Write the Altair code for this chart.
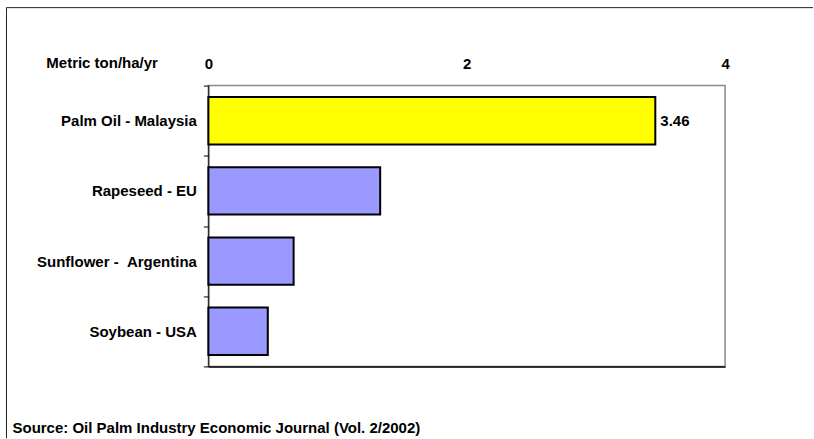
import altair as alt
import pandas as pd

categories = ["Palm Oil - Malaysia", "Rapeseed - EU", "Sunflower - \u00a0Argentina", "Soybean - USA"]
values = [3.46, 1.33, 0.66, 0.46]
bar_colors = ["#FFFF00", "#9999FF", "#9999FF", "#9999FF"]
value_labels = ["3.46", "", "", ""]
x_ticks = [0, 2, 4]
axis_title = "Metric ton/ha/yr"
source_text = "Source: Oil Palm Industry Economic Journal (Vol. 2/2002)"

FONT = "Liberation Sans"
FS = 15

df = pd.DataFrame({"cat": categories, "val": values, "color": bar_colors, "label": value_labels})

xscale = alt.Scale(domain=[0, 4], nice=False, zero=True)
yscale = alt.Scale(domain=categories, paddingInner=0, paddingOuter=0)

yaxis = alt.Axis(
    title=None, tickBand="extent", tickSize=5, tickColor="black", tickWidth=1,
    domainColor="black", domainWidth=1, grid=False,
    labelFont=FONT, labelFontSize=FS, labelFontWeight="bold", labelColor="black",
    labelPadding=7, labelLimit=300)

bars = alt.Chart(df).mark_bar(
    height={"band": 0.675}, stroke="black", strokeWidth=2
).encode(
    x=alt.X("val:Q", scale=xscale, axis=alt.Axis(
        orient="top", values=x_ticks, ticks=False, tickSize=0, domain=False, grid=False,
        labelFont=FONT, labelFontSize=FS, labelFontWeight="bold", labelColor="black",
        labelPadding=22, labelBaseline="middle", labelFlush=False,
        title=axis_title, titleFont=FONT, titleFontSize=FS, titleFontWeight="bold",
        titleColor="black", titleX=-51, titleY=-23, titleAlign="right",
        titleBaseline="middle", titleAngle=0)),
    y=alt.Y("cat:N", sort=categories, scale=yscale, axis=yaxis),
    color=alt.Color("color:N", scale=None),
)

texts = alt.Chart(df).mark_text(
    align="left", baseline="middle", dx=5, font=FONT, fontSize=FS, fontWeight="bold", color="black"
).encode(
    x=alt.X("val:Q", scale=xscale, axis=alt.Axis(
        orient="bottom", labels=False, ticks=False, grid=False, title=None,
        domainColor="black", domainWidth=1.5)),
    y=alt.Y("cat:N", sort=categories, scale=yscale, axis=yaxis),
    text="label:N",
)

one = pd.DataFrame({"a": [0]})
top_border = alt.Chart(one).mark_rule(color="#222222", strokeWidth=1).encode(
    x=alt.value(-202), x2=alt.value(605), y=alt.value(-78))
left_border = alt.Chart(one).mark_rule(color="#222222", strokeWidth=1).encode(
    x=alt.value(-202), y=alt.value(-78), y2=alt.value(353))
source = alt.Chart(one).mark_text(
    align="left", baseline="middle", font=FONT, fontSize=FS, fontWeight="bold", color="black"
).encode(x=alt.value(-196), y=alt.value(343), text=alt.value(source_text))

chart = alt.layer(bars, texts, top_border, left_border, source).resolve_axis(
    x="independent"
).properties(
    width=517, height=281,
    padding={"left": 5.5, "top": 6.5, "right": 0, "bottom": 0},
    background="white",
).configure_view(stroke="#888888", strokeWidth=1.5)

chart.save("out.html", embed_options={"renderer": "svg", "actions": False})
